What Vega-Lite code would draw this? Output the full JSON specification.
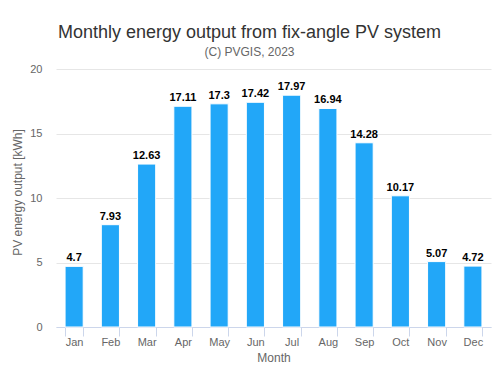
{
  "$schema": "https://vega.github.io/schema/vega-lite/v6.json",
  "width": 435,
  "height": 258,
  "autosize": {"type": "none"},
  "padding": {"left": 56, "top": 69, "right": 9, "bottom": 50},
  "background": "white",
  "title": {
    "text": "Monthly energy output from fix-angle PV system",
    "subtitle": "(C) PVGIS, 2023",
    "anchor": "middle",
    "dx": -24,
    "offset": 5,
    "font": "Liberation Sans",
    "fontSize": 18,
    "fontWeight": "normal",
    "color": "#333333",
    "subtitleFont": "Liberation Sans",
    "subtitleFontSize": 12,
    "subtitleColor": "#666666",
    "subtitlePadding": 5
  },
  "data": {
    "values": [
      {"Month": "Jan", "E": 4.7, "L": "4.7"},
      {"Month": "Feb", "E": 7.93, "L": "7.93"},
      {"Month": "Mar", "E": 12.63, "L": "12.63"},
      {"Month": "Apr", "E": 17.11, "L": "17.11"},
      {"Month": "May", "E": 17.3, "L": "17.3"},
      {"Month": "Jun", "E": 17.42, "L": "17.42"},
      {"Month": "Jul", "E": 17.97, "L": "17.97"},
      {"Month": "Aug", "E": 16.94, "L": "16.94"},
      {"Month": "Sep", "E": 14.28, "L": "14.28"},
      {"Month": "Oct", "E": 10.17, "L": "10.17"},
      {"Month": "Nov", "E": 5.07, "L": "5.07"},
      {"Month": "Dec", "E": 4.72, "L": "4.72"}
    ]
  },
  "encoding": {
    "x": {
      "field": "Month",
      "type": "nominal",
      "sort": null,
      "scale": {"paddingInner": 0.5, "paddingOuter": 0.25},
      "axis": {
        "title": "Month",
        "labelAngle": 0,
        "tickBand": "extent",
        "domainColor": "#ccd6eb",
        "tickColor": "#ccd6eb",
        "tickSize": 9,
        "labelFont": "Liberation Sans",
        "labelFontSize": 11,
        "labelColor": "#666666",
        "labelPadding": 0,
        "titleFont": "Liberation Sans",
        "titleFontSize": 12,
        "titleFontWeight": "normal",
        "titleColor": "#666666",
        "titlePadding": 5
      }
    },
    "y": {
      "field": "E",
      "type": "quantitative",
      "scale": {"domain": [0, 20]},
      "axis": {
        "title": "PV energy output [kWh]",
        "values": [0, 5, 10, 15, 20],
        "domain": false,
        "ticks": false,
        "gridColor": "#e6e6e6",
        "labelFont": "Liberation Sans",
        "labelFontSize": 11,
        "labelColor": "#666666",
        "labelPadding": 14,
        "titleFont": "Liberation Sans",
        "titleFontSize": 12,
        "titleFontWeight": "normal",
        "titleColor": "#666666",
        "titlePadding": 5,
        "titleY": 123
      }
    }
  },
  "layer": [
    {
      "mark": {"type": "bar", "color": "#22a7f8", "stroke": "white", "strokeWidth": 1}
    },
    {
      "mark": {
        "type": "text",
        "baseline": "bottom",
        "dy": -3,
        "font": "Liberation Sans",
        "fontSize": 11,
        "fontWeight": "bold",
        "color": "#000000"
      },
      "encoding": {"text": {"field": "L"}}
    }
  ],
  "config": {"view": {"stroke": null}}
}
